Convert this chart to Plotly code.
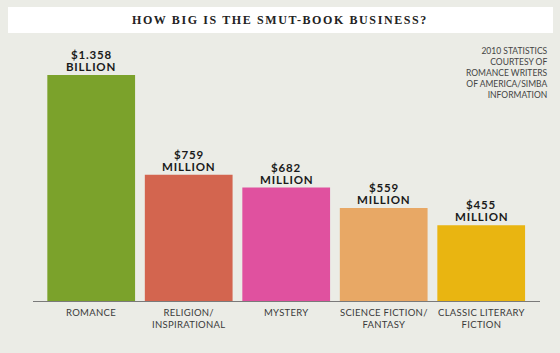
import plotly.graph_objects as go

categories = ["ROMANCE", "RELIGION/<br>INSPIRATIONAL", "MYSTERY", "SCIENCE FICTION/<br>FANTASY", "CLASSIC LITERARY<br>FICTION"]
values = [1358, 759, 682, 559, 455]
amount_labels = ["$1.358", "$759", "$682", "$559", "$455"]
unit_labels = ["BILLION", "MILLION", "MILLION", "MILLION", "MILLION"]
colors = ["#7ba22b", "#d3654f", "#e0519f", "#e8a865", "#e9b511"]
title = "HOW BIG IS THE SMUT-BOOK BUSINESS?"
source = "2010 STATISTICS<br>COURTESY OF<br>ROMANCE WRITERS<br>OF AMERICA/SIMBA<br>INFORMATION"

W, H = 560, 353
L, R, T, B = 33, 20, 35, 52
pw, ph = W - L - R, H - T - B

def px_x(p):
    return (p - L) / pw

def px_y(p):
    return (H - B - p) / ph

def spaced(t, s):
    return '<span style="letter-spacing:%spx">%s</span>' % (s, t)

xs = list(range(len(categories)))
BG = "#ebece6"
vfont = dict(family="Lato", size=11.5, color="#1a1a1a", weight=900)

fig = go.Figure()
fig.add_trace(go.Bar(x=xs, y=values, marker=dict(color=colors, line=dict(width=0)),
                     width=0.9, hoverinfo="skip"))

ann = []
for x, v, a, u in zip(xs, values, amount_labels, unit_labels):
    ann.append(dict(x=x, y=v, xref="x", yref="y", text="<b>" + spaced(u, 0.8) + "</b>", showarrow=False,
                    yanchor="bottom", yshift=0, font=vfont))
    ann.append(dict(x=x, y=v, xref="x", yref="y", text="<b>" + spaced(a, 0.8) + "</b>", showarrow=False,
                    yanchor="bottom", yshift=12, font=vfont))
for x, c in zip(xs, categories):
    ann.append(dict(x=x, y=0, xref="x", yref="paper", text=spaced(c, 0.3), showarrow=False,
                    yanchor="top", yshift=-4,
                    font=dict(family="Lato", size=9.5, color="#3a3a3a")))
ann.append(dict(x=px_x(550), y=px_y(44), xref="paper", yref="paper", text=source,
                showarrow=False, xanchor="right", yanchor="top", align="right",
                font=dict(family="Lato", size=8.5, color="#444444")))
ann.append(dict(x=px_x(280), y=px_y(20), xref="paper", yref="paper",
                text=spaced(title, 1.6),
                showarrow=False, xanchor="center", yanchor="middle",
                font=dict(family="Liberation Serif", size=12, color="#222222", weight="bold")))

fig.update_layout(
    width=W, height=H, margin=dict(l=L, r=R, t=T, b=B),
    paper_bgcolor=BG, plot_bgcolor=BG, showlegend=False,
    xaxis=dict(range=[-0.597, 4.603], showticklabels=False, showgrid=False, zeroline=False,
               showline=True, linecolor="#7a7a7a", linewidth=1, ticks=""),
    yaxis=dict(range=[0, ph / 226 * 1358], visible=False, showgrid=False),
    annotations=ann,
    shapes=[dict(type="rect", xref="paper", yref="paper", x0=px_x(8), x1=px_x(553),
                 y0=px_y(33), y1=px_y(7), fillcolor="white", line=dict(width=0), layer="below")],
)
fig.write_html("out.html")
